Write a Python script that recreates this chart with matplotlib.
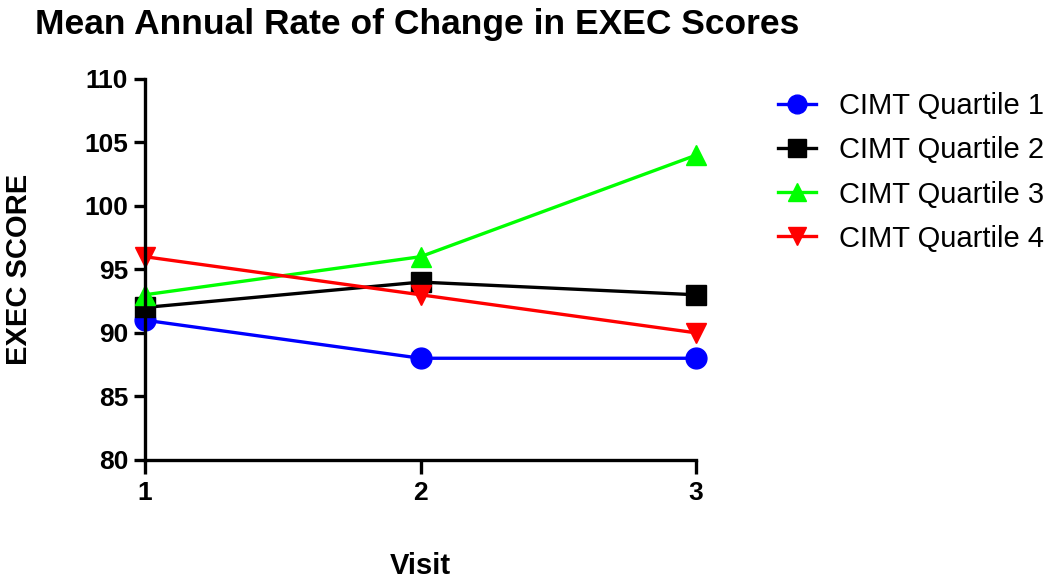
import matplotlib
matplotlib.use("Agg")
import matplotlib.pyplot as plt

visits = [1, 2, 3]
q1 = [91, 88, 88]
q2 = [92, 94, 93]
q3 = [93, 96, 104]
q4 = [96, 93, 90]
labels = ["CIMT Quartile 1", "CIMT Quartile 2", "CIMT Quartile 3", "CIMT Quartile 4"]
yticks = [80, 85, 90, 95, 100, 105, 110]

plt.rcParams['font.family'] = ['Liberation Sans', 'DejaVu Sans']

fig = plt.figure(figsize=(10.5, 5.85), dpi=100)
ax = fig.add_axes([0.138, 0.214, 0.525, 0.651])

styles = [("#0000ff", "o", 15), ("#000000", "s", 14), ("#00ff00", "^", 15), ("#ff0000", "v", 15)]
for vals, lab, (c, m, ms) in zip([q1, q2, q3, q4], labels, styles):
    ax.plot(visits, vals, color=c, marker=m, markersize=ms, linewidth=2.4, label=lab, clip_on=False)

ax.set_xlim(1, 3)
ax.set_ylim(80, 110)
ax.set_yticks(yticks)
ax.set_xticks(visits)
for s in ["top", "right"]:
    ax.spines[s].set_visible(False)
for s in ["left", "bottom"]:
    ax.spines[s].set_linewidth(2.4)
ax.tick_params(axis="y", width=2.4, length=8, labelsize=19, pad=4)
ax.tick_params(axis="x", width=2.4, length=10, labelsize=19, pad=5)
for t in ax.get_xticklabels() + ax.get_yticklabels():
    t.set_fontweight("bold")

ax.set_ylabel("EXEC SCORE", fontsize=21, fontweight="bold", labelpad=37)
ax.set_xlabel("Visit", fontsize=21, fontweight="bold", labelpad=34)
fig.text(0.033, 0.958, "Mean Annual Rate of Change in EXEC Scores", fontsize=25.5, fontweight="bold", ha="left", va="center")

leg = fig.legend(loc="upper left", bbox_to_anchor=(0.741, 0.842), frameon=False, fontsize=21,
                 handlelength=1.3, labelspacing=0.55, handletextpad=0.8, markerscale=0.9,
                 borderpad=0, borderaxespad=0)

fig.savefig("out.png", dpi=100)
